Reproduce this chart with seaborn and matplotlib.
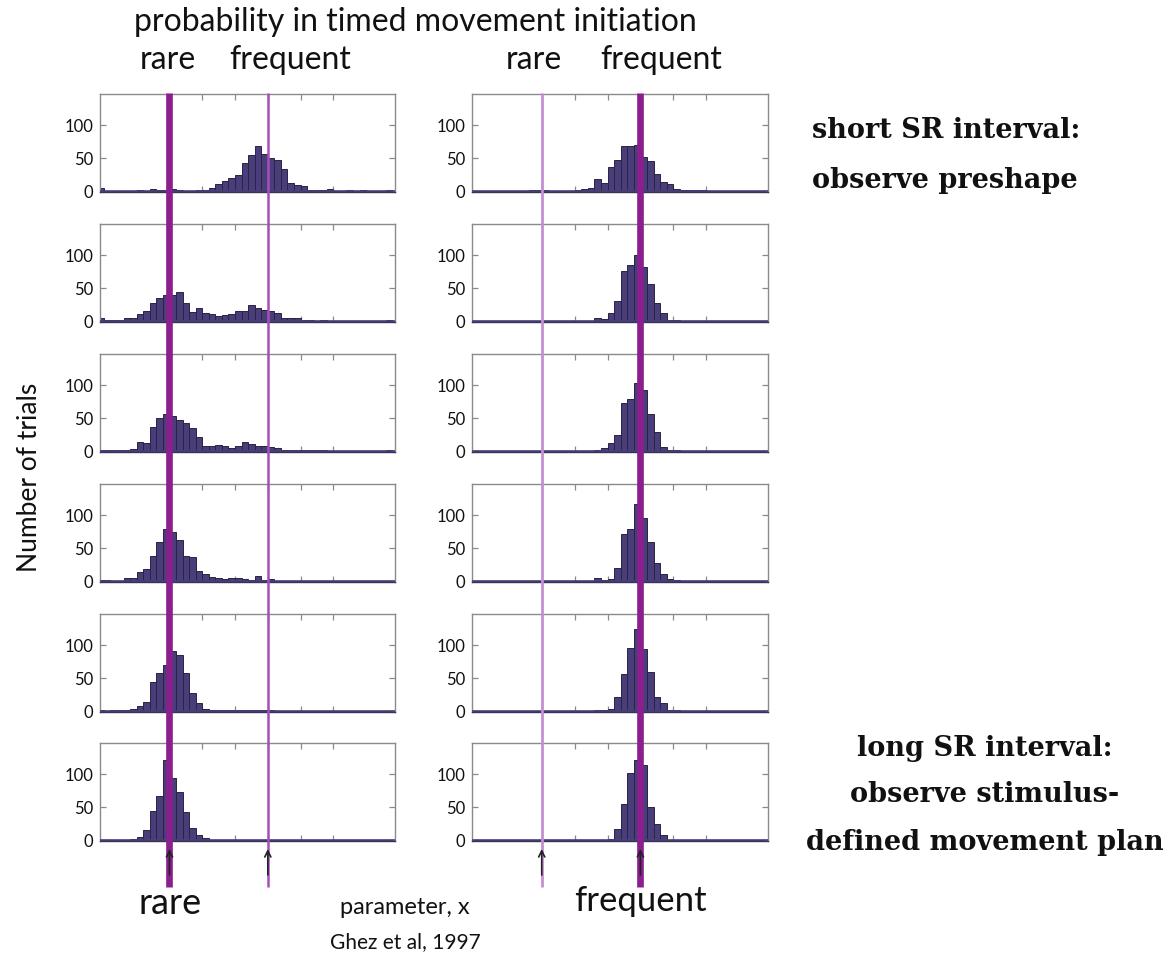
import numpy as np
import pandas as pd
import seaborn as sns
import matplotlib.pyplot as plt
import matplotlib.transforms as mtrans
from matplotlib.lines import Line2D
from matplotlib.patches import FancyArrowPatch

# ---------------- data ----------------
# bin edges (parameter x, arbitrary units); bins -1..43
bin_edges = list(range(-1, 45))
rare_x = 10
freq_x = 25
x_ticks = [10, 15, 20, 25, 30, 35]
y_ticks = [0, 50, 100]

# counts per bin (bins -1 .. 43), rows from short SR interval (top) to long (bottom)
left_rows = [
    [5, 0, 0, 0, 0, 0, 1, 0, 3, 1, 1, 3, 2, 0, 0, 2, 2, 4, 11, 15, 20, 25, 42, 55, 68, 57, 50, 48, 33, 12, 9, 8, 2, 2, 1, 3, 0, 0, 1, 0, 1, 0, 0, 0, 1],
    [4, 1, 1, 2, 4, 5, 10, 16, 27, 35, 40, 40, 45, 28, 14, 20, 12, 10, 8, 9, 10, 15, 16, 25, 20, 17, 15, 12, 5, 4, 5, 1, 1, 0, 1, 0, 0, 0, 0, 0, 0, 0, 0, 0, 2],
    [2, 2, 1, 2, 1, 3, 14, 12, 37, 50, 56, 53, 48, 42, 35, 21, 8, 8, 9, 7, 5, 8, 13, 10, 8, 7, 6, 4, 2, 1, 2, 2, 1, 2, 1, 0, 0, 0, 0, 0, 0, 0, 0, 0, 2],
    [1, 1, 0, 0, 5, 4, 13, 18, 38, 60, 80, 75, 62, 38, 37, 15, 11, 6, 4, 3, 5, 4, 3, 1, 8, 1, 3, 0, 0, 0, 0, 0, 0, 0, 0, 0, 0, 0, 0, 0, 0, 0, 0, 0, 0],
    [1, 0, 1, 2, 2, 3, 8, 14, 44, 58, 70, 92, 85, 58, 27, 12, 3, 2, 2, 1, 1, 1, 1, 1, 1, 2, 1, 0, 0, 0, 0, 0, 0, 0, 0, 0, 0, 0, 0, 0, 0, 0, 0, 0, 0],
    [0, 0, 0, 0, 0, 1, 5, 15, 45, 67, 122, 95, 73, 43, 19, 7, 3, 0, 0, 0, 0, 0, 0, 0, 0, 0, 0, 0, 0, 0, 0, 0, 0, 0, 0, 0, 0, 0, 0, 0, 0, 0, 0, 0, 0],
]
right_rows = [
    [0, 0, 0, 0, 0, 0, 0, 0, 0, 1, 2, 1, 0, 0, 0, 0, 1, 3, 5, 19, 12, 37, 48, 68, 68, 70, 52, 46, 26, 14, 11, 3, 1, 1, 2, 2, 0, 0, 0, 0, 0, 0, 0, 0, 0],
    [0, 0, 0, 0, 0, 0, 0, 0, 0, 0, 0, 0, 0, 0, 0, 0, 0, 0, 0, 5, 3, 12, 30, 76, 85, 100, 83, 57, 27, 12, 2, 1, 0, 0, 0, 0, 0, 0, 0, 0, 0, 0, 0, 0, 0],
    [0, 0, 0, 0, 0, 0, 0, 0, 0, 0, 0, 0, 0, 0, 0, 0, 0, 0, 0, 2, 4, 12, 25, 74, 80, 104, 93, 56, 29, 6, 2, 1, 0, 0, 0, 0, 0, 0, 0, 0, 0, 0, 0, 0, 0],
    [0, 0, 0, 0, 0, 0, 0, 0, 0, 0, 0, 0, 0, 0, 0, 0, 0, 0, 0, 4, 2, 3, 20, 72, 80, 118, 96, 60, 28, 10, 3, 1, 0, 0, 0, 0, 0, 0, 0, 0, 0, 0, 0, 0, 0],
    [0, 0, 0, 0, 0, 0, 0, 0, 0, 0, 0, 0, 0, 0, 0, 0, 0, 0, 0, 1, 1, 3, 22, 57, 96, 125, 94, 60, 22, 12, 2, 1, 0, 0, 0, 0, 0, 0, 0, 0, 0, 0, 0, 0, 0],
    [0, 0, 0, 0, 0, 0, 0, 0, 0, 0, 0, 0, 0, 0, 0, 0, 0, 0, 0, 0, 0, 2, 17, 55, 102, 122, 114, 50, 24, 8, 0, 0, 0, 0, 0, 0, 0, 0, 0, 0, 0, 0, 0, 0, 0],
]

# ---------------- style ----------------
sns.set_theme(style="white")
plt.rcParams['font.family'] = ['Lato', 'DejaVu Sans']

W, H = 1169, 956
fig = plt.figure(figsize=(W / 100, H / 100), dpi=100)


def fx(x):
    return x / W


def fy(y):
    return 1 - y / H


bar_color = "#4a3e7a"
edge_color = "#2b2344"
thick_col = "#8b1f8e"
thin_col = "#a94dba"
light_col = "#c48fd0"
spine_col = "#8a8a8a"
text_col = "#111111"

row_tops = [94, 224, 354, 484, 614, 743]
row_h = 98
col_x = [(100, 295), (472, 296)]

centers = [e + 0.5 for e in bin_edges[:-1]]
axes = [[], []]
for r, top in enumerate(row_tops):
    for c, rows in enumerate([left_rows, right_rows]):
        x0, w = col_x[c]
        ax = fig.add_axes([fx(x0), fy(top + row_h), w / W, row_h / H])
        df = pd.DataFrame({"x": centers, "n": rows[r]})
        sns.histplot(data=df, x="x", weights="n", bins=bin_edges, ax=ax,
                     color=bar_color, edgecolor=edge_color, linewidth=0.7,
                     alpha=1.0)
        ax.axhline(0, color=bar_color, lw=1.2, zorder=3)
        ax.set_xlim(-0.6, 44.4)
        ax.set_ylim(-1.5, 148)
        ax.set_xticks(x_ticks)
        ax.set_yticks(y_ticks)
        ax.set_yticklabels([str(v) for v in y_ticks])
        ax.set_xlabel("")
        ax.set_ylabel("")
        ax.tick_params(axis="both", direction="in", length=4, width=0.9,
                       color=spine_col, top=True, right=True, bottom=True,
                       left=True, labelbottom=False, labelsize=12, pad=5,
                       labelcolor=text_col)
        for s in ax.spines.values():
            s.set_color(spine_col)
            s.set_linewidth(1.0)
        ax.spines["bottom"].set_color("#3a3358")
        ax.set_facecolor("white")
        axes[c].append(ax)

# vertical marker lines spanning all rows, positioned via data coordinates
y_top, y_bot = fy(93), fy(887)
line_specs = [
    (axes[0][-1], rare_x, thick_col, 4.8),
    (axes[0][-1], freq_x, thin_col, 1.8),
    (axes[1][-1], rare_x, light_col, 2.0),
    (axes[1][-1], freq_x, thick_col, 4.8),
]
for ax, xv, col, lw in line_specs:
    tr = mtrans.blended_transform_factory(ax.transData, fig.transFigure)
    fig.add_artist(Line2D([xv, xv], [y_top, y_bot], transform=tr, color=col,
                          lw=lw, zorder=5, solid_capstyle="butt"))
    fig.add_artist(FancyArrowPatch((xv, fy(875)), (xv, fy(849)), transform=tr,
                                   arrowstyle="->", mutation_scale=11,
                                   color="#222222", lw=1.2, zorder=6,
                                   shrinkA=0, shrinkB=0))

# ---------------- texts ----------------
fs_head = 23
fig.text(fx(415), fy(22), "probability in timed movement initiation",
         ha="center", va="center", fontsize=fs_head, color=text_col)
for x, t in [(168, "rare"), (290, "frequent"), (534, "rare"), (661, "frequent")]:
    fig.text(fx(x), fy(60), t, ha="center", va="center", fontsize=fs_head,
             color=text_col)

serif = ["DejaVu Serif"]
for x, y, t in [(812, 130, "short SR interval:"), (812, 180, "observe preshape")]:
    fig.text(fx(x), fy(y), t, ha="left", va="center", fontsize=19.5,
             fontweight="bold", family=serif, color=text_col)
for x, y, t in [(985, 748, "long SR interval:"), (985, 795, "observe stimulus-"),
                (985, 842, "defined movement plan")]:
    fig.text(fx(x), fy(y), t, ha="center", va="center", fontsize=19.5,
             fontweight="bold", family=serif, color=text_col)

fig.text(fx(30), fy(477), "Number of trials", rotation=90, ha="center",
         va="center", fontsize=19, color=text_col)

fig.text(fx(170), fy(903), "rare", ha="center", va="center", fontsize=26,
         color=text_col)
fig.text(fx(640), fy(901), "frequent", ha="center", va="center", fontsize=25,
         color=text_col)
fig.text(fx(405), fy(907), "parameter, x", ha="center", va="center",
         fontsize=17, color=text_col)
fig.text(fx(405), fy(942), "Ghez et al, 1997", ha="center", va="center",
         fontsize=15, color=text_col)

fig.savefig("out.png", dpi=100, facecolor="white")
